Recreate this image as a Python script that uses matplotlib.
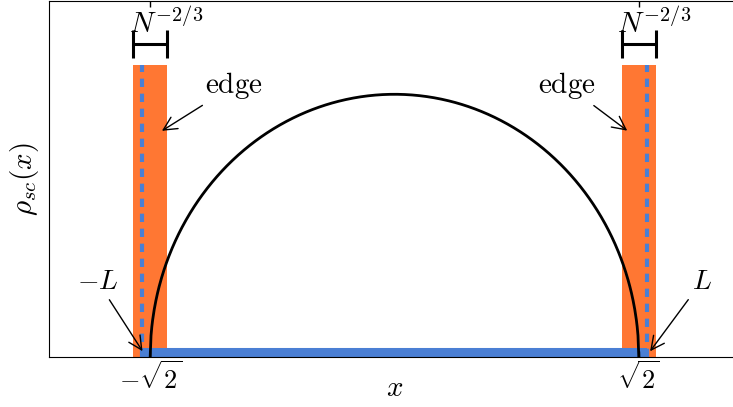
import numpy as np
import matplotlib
matplotlib.use("Agg")
import matplotlib.pyplot as plt

plt.rcParams['mathtext.fontset'] = 'cm'
plt.rcParams['font.family'] = 'serif'
plt.rcParams['font.serif'] = ['DejaVu Serif']

# edge positions and widths
edges = [-np.sqrt(2), np.sqrt(2)]
edge_width = 0.2          # N^{-2/3} window
edge_height = 0.50
L = 1.46                  # finite-N edge
bracket_y = 0.537
tick_labels = [r'$-\sqrt{2}$', r'$\sqrt{2}$']

orange = '#FF7733'
blue = '#4A7FD4'

fig = plt.figure(figsize=(7.33, 4.07), dpi=100)
ax = fig.add_axes([49 / 733, 50 / 407, 691 / 733, 356 / 407])

# semicircle law
x = np.linspace(-np.sqrt(2), np.sqrt(2), 600)
rho = np.sqrt(np.clip(2 - x**2, 0, None)) / np.pi

# orange edge windows
ax.bar(edges, [edge_height] * 2, width=edge_width, color=orange, zorder=1)

# blue support from -L to L
ax.plot([-L, L], [0, 0], color=blue, lw=13, solid_capstyle='butt', zorder=1.5)

# dashed lines at +-L
for xl in [-L, L]:
    ax.plot([xl, xl], [0, edge_height], color=blue, lw=3, dashes=(2, 1.6),
            solid_capstyle='butt', dash_capstyle='butt', zorder=1.6)

ax.plot(x, rho, color='black', lw=2, zorder=2)

# N^{-2/3} brackets
for xe in edges:
    ax.errorbar(xe, bracket_y, xerr=edge_width / 2, color='black', lw=2.2,
                capsize=10, capthick=2.2, fmt='none', zorder=3)
    ax.text(xe + 0.09, 0.572, r'$N^{-2/3}$', fontsize=21,
            ha='center', va='center')

arrow = dict(arrowstyle='->', color='black', lw=1, mutation_scale=24)
ax.annotate(r'$\mathrm{edge}$', xy=(-1.36, 0.385), xytext=(-0.93, 0.465),
            fontsize=21, ha='center', va='center', arrowprops=arrow)
ax.annotate(r'$\mathrm{edge}$', xy=(1.36, 0.385), xytext=(1.0, 0.465),
            fontsize=21, ha='center', va='center', arrowprops=arrow)
ax.annotate(r'$-L$', xy=(-L + 0.01, 0.006), xytext=(-1.72, 0.13),
            fontsize=20, ha='center', va='center', arrowprops=arrow)
ax.annotate(r'$L$', xy=(L + 0.01, 0.006), xytext=(1.78, 0.13),
            fontsize=20, ha='center', va='center', arrowprops=arrow)

ax.set_xlim(-2, 2)
ax.set_ylim(0, 0.61)
ax.set_xticks(edges)
ax.set_xticklabels(tick_labels, fontsize=19)
ax.set_yticks([])
ax.tick_params(axis='x', direction='in', top=True, length=4, width=1, pad=3)
ax.spines['right'].set_visible(False)
ax.set_xlabel(r'$x$', fontsize=21, labelpad=-14)
ax.set_ylabel(r'$\rho_{sc}(x)$', fontsize=21, labelpad=6)

fig.savefig('out.png', dpi=100)
